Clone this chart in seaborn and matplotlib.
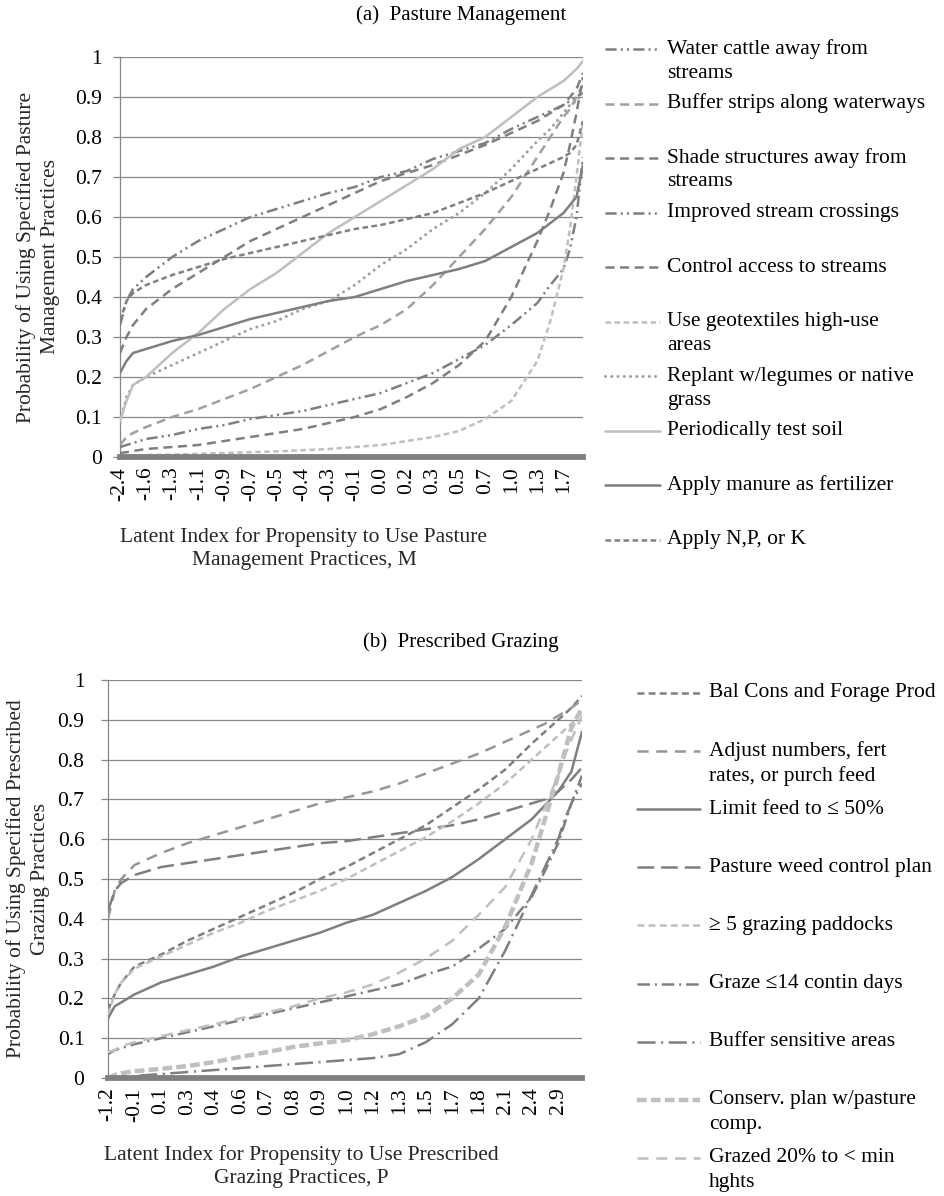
import matplotlib
matplotlib.use("Agg")
import numpy as np
import pandas as pd
import matplotlib.pyplot as plt
from matplotlib.lines import Line2D
import seaborn as sns

# --- data: (a) pasture management, values read at category positions ---
pos_a = [0, 0.25, 0.5, 1, 2, 3, 4, 5, 6, 7, 8, 9, 10, 11, 12, 13, 14, 15, 16, 16.5, 17, 17.25, 17.5, 17.75]
ticks_a = ["-2.4", "-1.6", "-1.3", "-1.1", "-0.9", "-0.7", "-0.5", "-0.4", "-0.3", "-0.1",
           "0.0", "0.2", "0.3", "0.5", "0.7", "1.0", "1.3", "1.7"]

water_cattle = [0.33, 0.39, 0.42, 0.45, 0.50, 0.54, 0.57, 0.60, 0.62, 0.64, 0.66, 0.675, 0.70, 0.715, 0.745, 0.765, 0.785, 0.82, 0.85, 0.865, 0.88, 0.89, 0.90, 0.91]
buffer_strips = [0.03, 0.05, 0.06, 0.075, 0.10, 0.12, 0.145, 0.17, 0.20, 0.23, 0.265, 0.30, 0.33, 0.37, 0.43, 0.50, 0.57, 0.65, 0.75, 0.80, 0.85, 0.87, 0.90, 0.93]
shade = [0.26, 0.30, 0.33, 0.37, 0.42, 0.46, 0.50, 0.54, 0.57, 0.60, 0.63, 0.66, 0.69, 0.71, 0.73, 0.755, 0.78, 0.81, 0.84, 0.86, 0.88, 0.90, 0.92, 0.96]
crossings = [0.025, 0.03, 0.035, 0.045, 0.055, 0.07, 0.08, 0.095, 0.105, 0.115, 0.13, 0.145, 0.16, 0.185, 0.21, 0.245, 0.28, 0.33, 0.385, 0.43, 0.47, 0.52, 0.60, 0.75]
control_access = [0.01, 0.012, 0.015, 0.02, 0.025, 0.03, 0.04, 0.05, 0.06, 0.07, 0.085, 0.10, 0.12, 0.15, 0.185, 0.23, 0.29, 0.40, 0.54, 0.62, 0.71, 0.78, 0.86, 0.95]
geotextiles = [0.0, 0.002, 0.003, 0.005, 0.006, 0.008, 0.01, 0.012, 0.014, 0.017, 0.02, 0.025, 0.03, 0.04, 0.05, 0.065, 0.095, 0.14, 0.24, 0.34, 0.47, 0.57, 0.70, 0.84]
replant = [0.09, 0.15, 0.18, 0.20, 0.23, 0.26, 0.29, 0.32, 0.34, 0.37, 0.39, 0.43, 0.48, 0.52, 0.57, 0.61, 0.66, 0.72, 0.79, 0.82, 0.86, 0.88, 0.89, 0.91]
test_soil = [0.09, 0.14, 0.18, 0.20, 0.26, 0.31, 0.37, 0.42, 0.46, 0.51, 0.56, 0.60, 0.64, 0.68, 0.72, 0.77, 0.80, 0.85, 0.90, 0.92, 0.94, 0.955, 0.97, 0.99]
manure = [0.21, 0.24, 0.26, 0.27, 0.29, 0.305, 0.325, 0.345, 0.36, 0.375, 0.39, 0.40, 0.42, 0.44, 0.455, 0.47, 0.49, 0.525, 0.56, 0.585, 0.61, 0.63, 0.65, 0.73]
npk = [0.34, 0.39, 0.41, 0.43, 0.455, 0.475, 0.495, 0.51, 0.525, 0.54, 0.555, 0.57, 0.58, 0.595, 0.61, 0.635, 0.66, 0.69, 0.72, 0.735, 0.75, 0.76, 0.78, 0.84]

labels_a = ["Water cattle away from\nstreams", "Buffer strips along waterways",
            "Shade structures away from\nstreams", "Improved stream crossings",
            "Control access to streams", "Use geotextiles high-use\nareas",
            "Replant w/legumes or native\ngrass", "Periodically test soil",
            "Apply manure as fertilizer", "Apply N,P, or K"]
series_a = [water_cattle, buffer_strips, shade, crossings, control_access,
            geotextiles, replant, test_soil, manure, npk]

# --- data: (b) prescribed grazing ---
pos_b = [0, 0.25, 0.5, 1, 2, 3, 4, 5, 6, 7, 8, 9, 10, 11, 12, 13, 14, 15, 16, 16.5, 17, 17.25, 17.5, 17.9]
ticks_b = ["-1.2", "-0.1", "0.1", "0.3", "0.4", "0.6", "0.7", "0.8", "0.9", "1.0",
           "1.2", "1.3", "1.5", "1.7", "1.8", "2.1", "2.4", "2.9"]

bal_cons = [0.17, 0.21, 0.24, 0.28, 0.31, 0.345, 0.375, 0.405, 0.435, 0.465, 0.50, 0.53, 0.565, 0.60, 0.635, 0.68, 0.725, 0.775, 0.84, 0.87, 0.90, 0.915, 0.93, 0.96]
adjust = [0.40, 0.47, 0.50, 0.535, 0.565, 0.59, 0.61, 0.63, 0.65, 0.67, 0.69, 0.705, 0.72, 0.74, 0.765, 0.79, 0.815, 0.845, 0.875, 0.89, 0.91, 0.92, 0.93, 0.95]
limit_feed = [0.15, 0.18, 0.19, 0.21, 0.24, 0.26, 0.28, 0.305, 0.325, 0.345, 0.365, 0.39, 0.41, 0.44, 0.47, 0.505, 0.55, 0.60, 0.65, 0.685, 0.72, 0.745, 0.77, 0.87]
weed_plan = [0.42, 0.47, 0.49, 0.51, 0.53, 0.54, 0.55, 0.56, 0.57, 0.58, 0.59, 0.595, 0.605, 0.615, 0.625, 0.635, 0.65, 0.67, 0.69, 0.70, 0.72, 0.735, 0.75, 0.78]
paddocks = [0.16, 0.21, 0.24, 0.275, 0.305, 0.335, 0.365, 0.39, 0.42, 0.445, 0.47, 0.50, 0.535, 0.57, 0.605, 0.645, 0.69, 0.74, 0.80, 0.83, 0.86, 0.875, 0.89, 0.92]
graze14 = [0.06, 0.07, 0.075, 0.085, 0.10, 0.115, 0.13, 0.145, 0.16, 0.175, 0.19, 0.205, 0.22, 0.235, 0.26, 0.28, 0.325, 0.375, 0.455, 0.52, 0.59, 0.64, 0.69, 0.76]
buffer_sens = [0.0, 0.002, 0.003, 0.005, 0.01, 0.015, 0.02, 0.025, 0.03, 0.035, 0.04, 0.045, 0.05, 0.06, 0.09, 0.135, 0.20, 0.32, 0.46, 0.53, 0.60, 0.65, 0.69, 0.74]
conserv = [0.0, 0.007, 0.012, 0.017, 0.023, 0.03, 0.04, 0.053, 0.065, 0.078, 0.087, 0.095, 0.11, 0.13, 0.155, 0.20, 0.26, 0.38, 0.54, 0.65, 0.76, 0.82, 0.88, 0.93]
grazed20 = [0.065, 0.07, 0.08, 0.09, 0.105, 0.12, 0.135, 0.15, 0.165, 0.18, 0.20, 0.215, 0.235, 0.265, 0.30, 0.345, 0.41, 0.48, 0.60, 0.68, 0.76, 0.81, 0.85, 0.91]

labels_b = ["Bal Cons and Forage Prod", "Adjust numbers, fert\nrates, or purch feed",
            "Limit feed to \u2264 50%", "Pasture weed control plan",
            "\u2265 5 grazing paddocks", "Graze \u226414 contin days",
            "Buffer sensitive areas", "Conserv. plan w/pasture\ncomp.",
            "Grazed 20% to < min\nhghts"]
series_b = [bal_cons, adjust, limit_feed, weed_plan, paddocks, graze14,
            buffer_sens, conserv, grazed20]

# --- styles (color, linewidth, dash pattern in points, capstyle) ---
DARK, MID, LIGHT = "#7f7f7f", "#a0a0a0", "#bfbfbf"
SOLID = None
styles_a = [
    (DARK, 1.8, (8, 3, 1.5, 3, 1.5, 3), "butt"),
    (MID, 1.8, (6.5, 4), "butt"),
    (DARK, 1.8, (6.5, 4), "butt"),
    (DARK, 1.8, (8, 3, 1.5, 3, 1.5, 3), "butt"),
    (DARK, 1.8, (6.5, 4), "butt"),
    (LIGHT, 1.8, (4, 2.5), "butt"),
    (MID, 2.2, (0.01, 4.5), "round"),
    (LIGHT, 1.8, SOLID, "butt"),
    (DARK, 1.8, SOLID, "butt"),
    (DARK, 1.8, (4, 2.5), "butt"),
]
styles_b = [
    (DARK, 1.8, (5, 3), "butt"),
    ("#969696", 1.8, (8, 5.5), "butt"),
    (DARK, 1.8, SOLID, "butt"),
    (DARK, 1.8, (12, 5), "butt"),
    (LIGHT, 1.8, (5, 3), "butt"),
    (DARK, 1.8, (9, 3.5, 1.5, 3.5), "butt"),
    (DARK, 1.8, (13, 4, 1.5, 4), "butt"),
    (LIGHT, 3.2, (7, 3), "butt"),
    (LIGHT, 1.8, (8, 5.5), "butt"),
]

FS = 15.5

sns.set_theme(style="white")
plt.rcParams['font.family'] = ['Liberation Serif', 'DejaVu Serif']
plt.rcParams['lines.scale_dashes'] = False
plt.rcParams['text.color'] = 'black'
plt.rcParams['xtick.color'] = 'black'
plt.rcParams['ytick.color'] = 'black'

W, H = 945, 1196
fig = plt.figure(figsize=(W / 100, H / 100), dpi=100)
fig.patch.set_facecolor("white")


def fx(px):
    return px / W


def fy(py):
    return 1 - py / H


def linestyle_of(dash):
    return "-" if dash is None else (0, dash)


def draw_panel(box, pos, series, labels, styles, ticks, xmax, xlabel, ylabel,
               xlab_xy, ylab_x, ytick_pad):
    left, top, right, bottom = box
    ax = fig.add_axes([fx(left), fy(bottom), fx(right) - fx(left), fy(top) - fy(bottom)])
    ax.set_facecolor("white")
    rows = []
    for name, vals in zip(labels, series):
        rows.append(pd.DataFrame({"pos": pos, "prob": vals, "practice": name}))
    df = pd.concat(rows, ignore_index=True)
    for name, (col, lw, dash, cap) in zip(labels, styles):
        sub = df[df["practice"] == name]
        sns.lineplot(data=sub, x="pos", y="prob", ax=ax, color=col, lw=lw,
                     linestyle=linestyle_of(dash), dash_capstyle=cap,
                     errorbar=None, legend=False, zorder=3)
    ax.set_xlim(0, xmax)
    ax.set_ylim(0, 1)
    ax.set_yticks(np.arange(0, 1.01, 0.1))
    ax.set_yticklabels(["0"] + [f"{v:.1f}" for v in np.arange(0.1, 0.95, 0.1)] + ["1"])
    ax.set_xticks(range(len(ticks)))
    ax.set_xticklabels(ticks, rotation=90)
    ax.grid(axis="y", color="#878787", lw=0.9)
    ax.grid(axis="x", visible=False)
    for s in ["top", "right"]:
        ax.spines[s].set_visible(False)
    ax.spines["left"].set_color("#878787")
    ax.spines["left"].set_linewidth(0.9)
    ax.spines["bottom"].set_color("#808080")
    ax.spines["bottom"].set_linewidth(4.2)
    ax.spines["bottom"].set_zorder(4)
    ax.tick_params(axis="y", length=5, width=0.9, color="#878787", pad=ytick_pad,
                   labelsize=FS, left=True)
    ax.tick_params(axis="x", length=0, pad=7, labelsize=FS)
    ax.set_xlabel(xlabel, fontsize=FS, ha="center", va="top")
    ax.xaxis.label.set_linespacing(1.3)
    ax.xaxis.set_label_coords(*xlab_xy)
    ax.set_ylabel(ylabel, fontsize=FS, va="center")
    ax.yaxis.label.set_linespacing(1.3)
    ax.yaxis.set_label_coords(ylab_x, 0.5)
    return ax


def draw_legend(labels, styles, x0, x1, xt, y0, step, line_h, fs=FS):
    for i, (name, (col, lw, dash, cap)) in enumerate(zip(labels, styles)):
        y = y0 + i * step
        fig.add_artist(Line2D([fx(x0), fx(x1)], [fy(y), fy(y)], transform=fig.transFigure,
                              color=col, lw=lw, linestyle=linestyle_of(dash),
                              dash_capstyle=cap))
        for k, part in enumerate(name.split("\n")):
            fig.text(fx(xt), fy(y + k * line_h), part, ha="left", va="center", fontsize=fs)


# ---- panel (a) ----
fig.text(fx(461), fy(15), "(a)  Pasture Management", ha="center", va="center", fontsize=15)
draw_panel((120, 57, 583, 457), pos_a, series_a, labels_a, styles_a, ticks_a, 17.75,
           "Latent Index for Propensity to Use Pasture\nManagement Practices, M",
           "Probability of Using Specified Pasture\nManagement Practices",
           ((304 - 120) / 463, (457 - 527) / 400), (38 - 120) / 463, 8)
draw_legend(labels_a, styles_a, 605, 660, 667, 49, 54.5, 24)

# ---- panel (b) ----
fig.text(fx(461), fy(642), "(b)  Prescribed Grazing", ha="center", va="center", fontsize=15)
draw_panel((108, 680, 582, 1078), pos_b, series_b, labels_b, styles_b, ticks_b, 17.9,
           "Latent Index for Propensity to Use Prescribed\nGrazing Practices, P",
           "Probability of Using Specified Prescribed\nGrazing Practices",
           ((301 - 108) / 474, (1078 - 1145) / 398), (28 - 108) / 474, 12)
draw_legend(labels_b, styles_b, 637, 700, 709, 693, 58.1, 25)

fig.savefig("out.png", dpi=100, facecolor="white")
